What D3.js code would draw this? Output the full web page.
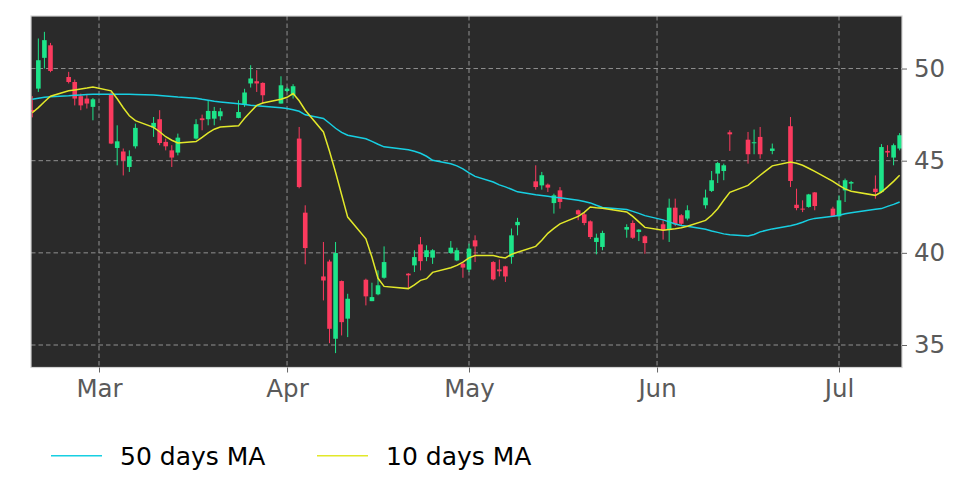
<!DOCTYPE html>
<html>
<head>
<meta charset="utf-8">
<script src="https://cdn.jsdelivr.net/npm/d3@7"></script>
<style>
  html, body { margin: 0; padding: 0; background: #ffffff; }
  svg { display: block; font-family: "DejaVu Sans", sans-serif; }
</style>
</head>
<body>
<svg id="chart" width="972" height="486"></svg>
<script>
// ---------- data ----------
const dates = [
  "2025-02-18","2025-02-19","2025-02-20","2025-02-21","2025-02-24","2025-02-25","2025-02-26","2025-02-27","2025-02-28",
  "2025-03-03","2025-03-04","2025-03-05","2025-03-06","2025-03-07","2025-03-10","2025-03-11","2025-03-12","2025-03-13","2025-03-14",
  "2025-03-17","2025-03-18","2025-03-19","2025-03-20","2025-03-21","2025-03-24","2025-03-25","2025-03-26","2025-03-27","2025-03-28",
  "2025-03-31","2025-04-01","2025-04-02","2025-04-03","2025-04-04","2025-04-07","2025-04-08","2025-04-09","2025-04-10","2025-04-11",
  "2025-04-14","2025-04-15","2025-04-16","2025-04-17","2025-04-21","2025-04-22","2025-04-23","2025-04-24","2025-04-25",
  "2025-04-28","2025-04-29","2025-04-30","2025-05-01","2025-05-02","2025-05-05","2025-05-06","2025-05-07","2025-05-08","2025-05-09",
  "2025-05-12","2025-05-13","2025-05-14","2025-05-15","2025-05-16","2025-05-19","2025-05-20","2025-05-21","2025-05-22","2025-05-23",
  "2025-05-27","2025-05-28","2025-05-29","2025-05-30","2025-06-02","2025-06-03","2025-06-04","2025-06-05","2025-06-06",
  "2025-06-09","2025-06-10","2025-06-11","2025-06-12","2025-06-13","2025-06-16","2025-06-17","2025-06-18","2025-06-20",
  "2025-06-23","2025-06-24","2025-06-25","2025-06-26","2025-06-27","2025-06-30","2025-07-01","2025-07-02","2025-07-03",
  "2025-07-07","2025-07-08","2025-07-09","2025-07-10","2025-07-11"
];
const open = [
  47.75,48.91,50.58,51.26,49.54,49.27,48.50,48.37,47.92,
  48.60,45.69,45.50,44.66,45.78,46.80,47.25,46.02,45.56,45.44,
  46.20,47.30,47.25,47.28,47.41,47.32,48.05,49.19,49.31,49.22,
  48.10,48.78,48.55,46.20,42.18,38.72,39.53,35.34,38.47,36.43,
  38.54,37.38,37.75,38.65,38.87,39.32,40.46,39.77,39.74,
  39.99,39.59,39.41,39.09,40.68,39.50,39.10,39.27,39.77,41.50,
  43.88,43.66,43.70,42.70,43.39,42.31,42.09,41.71,40.59,40.32,
  41.26,41.62,41.13,40.90,41.55,41.26,42.45,42.04,41.86,
  42.58,43.36,44.30,44.44,46.54,46.14,45.95,46.29,45.53,
  46.87,42.61,42.40,42.49,43.28,42.40,41.98,43.39,43.76,
  43.48,43.30,45.53,45.17,45.66
];
const high = [
  48.50,51.63,51.99,51.39,49.82,49.40,48.64,48.60,48.40,
  48.73,46.92,45.66,45.56,47.01,47.37,47.74,46.20,45.84,46.47,
  47.25,47.50,48.28,47.92,47.86,48.28,48.90,50.18,49.91,49.25,
  49.58,48.98,49.15,46.83,42.58,40.59,39.63,40.59,38.50,37.78,
  38.60,38.38,39.05,40.35,38.90,40.14,40.86,40.41,40.20,
  40.64,40.28,39.45,40.50,40.95,39.55,39.64,39.30,41.32,41.90,
  44.75,44.39,43.76,43.21,43.57,42.35,42.20,41.76,41.04,41.20,
  41.55,41.76,41.28,40.95,41.76,42.94,42.94,42.10,42.58,
  43.43,44.44,44.93,44.84,46.65,46.56,46.69,46.83,45.93,
  47.37,43.48,42.85,43.20,43.30,42.50,43.12,44.03,43.90,
  44.20,45.90,45.84,45.93,46.50
];
const low = [
  47.35,48.73,50.00,49.80,49.19,48.00,47.74,47.83,47.19,
  45.90,44.75,44.20,44.39,45.66,46.29,45.84,45.56,44.66,45.29,
  46.15,46.65,46.92,46.92,47.19,47.30,47.92,48.97,48.73,48.10,
  48.10,48.72,48.37,43.50,39.38,37.42,35.10,34.56,35.52,35.43,
  37.15,37.38,37.70,38.60,38.05,38.96,39.05,39.55,39.40,
  39.95,39.55,38.65,38.96,39.50,38.50,38.72,38.42,39.41,40.95,
  43.43,43.43,43.30,42.13,42.40,41.77,41.50,40.75,39.92,40.14,
  40.82,40.75,40.64,39.95,40.72,40.59,41.45,41.50,41.76,
  42.40,43.30,43.79,43.94,45.53,44.84,45.35,45.11,45.35,
  43.57,42.31,42.21,42.45,42.31,41.95,41.80,42.76,43.40,
  42.94,43.25,45.20,44.75,45.56
];
const close = [
  47.65,50.45,51.54,49.87,49.27,48.37,48.00,48.10,48.33,
  45.93,46.05,45.02,45.24,46.78,47.05,45.96,45.78,45.17,46.25,
  46.98,47.20,47.70,47.70,47.68,47.64,48.70,49.46,49.19,48.55,
  49.09,48.91,49.04,43.57,40.26,38.50,35.88,39.99,36.24,37.51,
  37.64,37.60,38.24,39.50,38.78,39.77,39.55,40.14,40.14,
  40.28,40.14,39.20,40.23,40.35,38.56,39.00,38.72,40.95,41.68,
  43.57,44.21,43.54,43.12,42.76,42.09,41.62,40.86,40.82,41.08,
  41.40,40.82,41.26,40.53,41.22,42.45,41.55,41.58,42.31,
  43.00,43.94,44.87,44.75,46.43,45.35,46.00,45.35,45.66,
  43.90,42.43,42.35,43.17,42.54,41.98,42.85,43.94,43.84,
  43.30,45.74,45.44,45.84,46.38
];
const ma50 = [
  48.33,48.39,48.44,48.47,48.52,48.55,48.57,48.59,48.60,
  48.60,48.60,48.60,48.60,48.59,48.56,48.54,48.51,48.48,48.45,
  48.39,48.33,48.28,48.22,48.19,48.09,48.05,48.01,47.98,47.95,
  47.87,47.83,47.76,47.68,47.49,47.29,47.03,46.76,46.54,46.38,
  46.19,46.05,45.89,45.75,45.59,45.51,45.40,45.24,45.02,
  44.83,44.72,44.56,44.34,44.15,43.84,43.69,43.58,43.45,43.31,
  43.15,43.11,43.07,43.02,42.99,42.85,42.79,42.71,42.58,42.46,
  42.35,42.25,42.14,42.02,41.79,41.68,41.57,41.49,41.44,
  41.28,41.19,41.11,41.03,40.98,40.92,41.00,41.14,41.30,
  41.47,41.55,41.66,41.79,41.87,41.98,42.04,42.12,42.17,
  42.36,42.40,42.52,42.63,42.76
];
const ma10 = [
  47.60,47.88,48.20,48.50,48.79,48.84,48.89,48.94,49.00,
  48.79,48.36,47.87,47.44,47.17,46.81,46.57,46.30,46.11,45.96,
  46.04,46.26,46.51,46.71,46.83,46.89,47.30,47.65,48.00,48.13,
  48.33,48.44,48.64,48.25,47.74,46.56,45.51,44.37,43.15,41.94,
  40.76,39.76,38.62,38.18,38.06,38.26,38.51,38.60,38.94,
  39.19,39.32,39.50,39.73,39.86,39.86,39.77,39.72,39.92,40.03,
  40.35,40.68,41.06,41.33,41.57,41.98,42.20,42.49,42.45,42.42,
  42.22,41.98,41.68,41.38,41.22,41.27,41.31,41.36,41.44,
  41.76,42.04,42.39,42.85,43.28,43.66,43.94,44.21,44.72,
  44.93,44.86,44.75,44.59,44.42,43.88,43.66,43.47,43.34,
  43.12,43.30,43.58,43.88,44.21
];
const monthTicks = ["2025-03-01","2025-04-01","2025-05-01","2025-06-01","2025-07-01"];
const monthLabels = ["Mar","Apr","May","Jun","Jul"];
const priceTicks = [35, 40, 45, 50];
const seriesNames = ["50 days MA", "10 days MA"];

// ---------- layout ----------
const plot = { left: 31, top: 16, right: 902, bottom: 367.5 };
const colors = { up: "#1de58a", down: "#fb3a5e", ma50: "#17cfe2", ma10: "#e2e82a", bg: "#2a2a2a" };

const parse = d3.utcParse("%Y-%m-%d");
const data = dates.map((d, i) => ({
  date: parse(d), o: open[i], h: high[i], l: low[i], c: close[i], m50: ma50[i], m10: ma10[i]
}));

const x = d3.scaleUtc()
  .domain([new Date(Date.UTC(2025, 1, 17, 18, 56)), new Date(Date.UTC(2025, 6, 11, 9, 16))])
  .range([plot.left, plot.right]);
const y = d3.scaleLinear().domain([33.78, 52.85]).range([plot.bottom, plot.top]);

const svg = d3.select("#chart");

svg.append("defs").append("clipPath").attr("id", "clip")
  .append("rect")
  .attr("x", plot.left).attr("y", plot.top)
  .attr("width", plot.right - plot.left).attr("height", plot.bottom - plot.top);

// background
svg.append("rect")
  .attr("x", plot.left).attr("y", plot.top)
  .attr("width", plot.right - plot.left).attr("height", plot.bottom - plot.top)
  .attr("fill", colors.bg);

// grid
const grid = svg.append("g").attr("clip-path", "url(#clip)");
grid.selectAll("line.h").data(priceTicks).join("line")
  .attr("x1", plot.left).attr("x2", plot.right)
  .attr("y1", d => y(d)).attr("y2", d => y(d))
  .attr("stroke", "#9c9c9c").attr("stroke-width", 0.9).attr("stroke-dasharray", "4.5,3");
grid.selectAll("line.v").data(monthTicks.map(parse)).join("line")
  .attr("x1", d => x(d)).attr("x2", d => x(d))
  .attr("y1", plot.top).attr("y2", plot.bottom)
  .attr("stroke", "#9c9c9c").attr("stroke-width", 0.9).attr("stroke-dasharray", "4.5,3");

// candles
const dayPx = x(parse("2025-03-02")) - x(parse("2025-03-01"));
const bodyW = dayPx * 0.76;
const cg = svg.append("g").attr("clip-path", "url(#clip)");
const candle = cg.selectAll("g.c").data(data).join("g")
  .attr("fill", d => d.c >= d.o ? colors.up : colors.down)
  .attr("stroke", d => d.c >= d.o ? colors.up : colors.down);
candle.append("line")
  .attr("x1", d => x(d.date)).attr("x2", d => x(d.date))
  .attr("y1", d => y(d.h)).attr("y2", d => y(d.l))
  .attr("stroke-width", 1);
candle.append("rect")
  .attr("x", d => x(d.date) - bodyW / 2)
  .attr("width", bodyW)
  .attr("y", d => y(Math.max(d.o, d.c)))
  .attr("height", d => Math.max(1, Math.abs(y(d.o) - y(d.c))))
  .attr("stroke", "none");

// moving averages
const lg = svg.append("g").attr("clip-path", "url(#clip)");
lg.append("path").datum(data)
  .attr("d", d3.line().x(d => x(d.date)).y(d => y(d.m50)))
  .attr("fill", "none").attr("stroke", colors.ma50).attr("stroke-width", 1.5);
lg.append("path").datum(data)
  .attr("d", d3.line().x(d => x(d.date)).y(d => y(d.m10)))
  .attr("fill", "none").attr("stroke", colors.ma10).attr("stroke-width", 1.5);

// frame
svg.append("rect")
  .attr("x", plot.left).attr("y", plot.top)
  .attr("width", plot.right - plot.left).attr("height", plot.bottom - plot.top)
  .attr("fill", "none").attr("stroke", "#d2d2d2").attr("stroke-width", 1.2);

// axes
const yAxis = d3.axisRight(y).tickValues(priceTicks).tickSize(5).tickPadding(7).tickFormat(d3.format("d"));
const ya = svg.append("g").attr("transform", `translate(${plot.right},0)`).call(yAxis);
ya.select(".domain").remove();
ya.selectAll(".tick line").attr("stroke", "#666");
ya.selectAll(".tick text").attr("fill", "#5a5a5a").style("font-size", "24.5px")
  .style("font-family", "'DejaVu Sans', sans-serif");

const xAxis = d3.axisBottom(x).tickValues(monthTicks.map(parse)).tickSize(5).tickPadding(7)
  .tickFormat((d, i) => monthLabels[i]);
const xa = svg.append("g").attr("transform", `translate(0,${plot.bottom})`).call(xAxis);
xa.select(".domain").remove();
xa.selectAll(".tick line").attr("stroke", "#666");
xa.selectAll(".tick text").attr("fill", "#5a5a5a").style("font-size", "24.5px")
  .style("font-family", "'DejaVu Sans', sans-serif");

// legend
const legend = svg.append("g");
const legendItems = [
  { name: seriesNames[0], color: colors.ma50, x0: 51 },
  { name: seriesNames[1], color: colors.ma10, x0: 317 }
];
const li = legend.selectAll("g").data(legendItems).join("g")
  .attr("transform", d => `translate(${d.x0},0)`);
li.append("line").attr("x1", 0).attr("x2", 51).attr("y1", 455.7).attr("y2", 455.7)
  .attr("stroke", d => d.color).attr("stroke-width", 1.5);
li.append("text").attr("x", 69).attr("y", 465)
  .text(d => d.name)
  .attr("fill", "#000").style("font-size", "25px")
  .style("font-family", "'DejaVu Sans', sans-serif");
</script>
</body>
</html>
